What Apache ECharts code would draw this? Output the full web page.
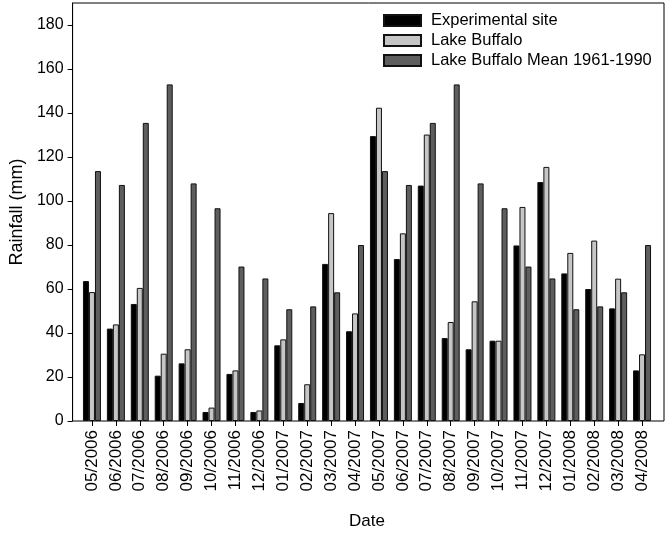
<!DOCTYPE html>
<html>
<head>
<meta charset="utf-8">
<script src="https://cdn.jsdelivr.net/npm/echarts@6/dist/echarts.min.js"></script>
<style>
html,body{margin:0;padding:0;background:#fff;}
#chart{width:668px;height:536px;}
</style>
</head>
<body>
<div id="chart"></div>
<script>
var categories = ['05/2006','06/2006','07/2006','08/2006','09/2006','10/2006','11/2006','12/2006',
  '01/2007','02/2007','03/2007','04/2007','05/2007','06/2007','07/2007','08/2007','09/2007','10/2007','11/2007','12/2007',
  '01/2008','02/2008','03/2008','04/2008'];
var experimentalSite = [63.6,42.0,53.2,20.6,26.2,4.1,21.4,4.1,34.4,8.2,71.4,40.8,129.5,73.6,107.0,37.7,32.6,36.5,79.8,108.6,67.1,60.0,51.2,23.0];
var lakeBuffalo = [58.6,43.9,60.5,30.6,32.6,6.1,23.0,4.8,37.1,16.7,94.5,48.9,142.4,85.3,130.2,45.0,54.4,36.5,97.3,115.5,76.4,82.0,64.7,30.3];
var lakeBuffaloMean = [113.6,107.3,135.5,153.0,108.0,96.7,70.2,64.8,50.8,52.1,58.5,80.0,113.6,107.3,135.5,153.0,108.0,96.7,70.2,64.8,50.8,52.1,58.5,80.0];
var yTicks = [0,20,40,60,80,100,120,140,160,180];

var chart = echarts.init(document.getElementById('chart'));
var font = 'Liberation Sans, Arial, sans-serif';
function barSeries(name, data, color) {
  return {
    name: name, type: 'bar', xAxisIndex: 1, yAxisIndex: 1, data: data,
    barWidth: 6, barGap: '0%',
    itemStyle: {color: color, borderColor: '#111', borderWidth: 1}
  };
}
chart.setOption({
  animation: false,
  backgroundColor: '#fff',
  textStyle: {fontFamily: font},
  grid: [
    {left: 68, right: 4, top: 3, bottom: 115, show: true, borderColor: '#000', borderWidth: 1, backgroundColor: 'transparent'},
    {left: 80, right: 14, top: 3, bottom: 115}
  ],
  legend: {
    orient: 'vertical', left: 383, top: 12, padding: 0,
    icon: 'rect',
    itemWidth: 37, itemHeight: 11, itemGap: 3,
    textStyle: {fontSize: 16.5, color: '#000', fontFamily: font, padding: [0,0,0,5]},
    data: ['Experimental site','Lake Buffalo','Lake Buffalo Mean 1961-1990']
  },
  xAxis: [
    {type: 'value', gridIndex: 0, min: 0, max: 1, show: false},
    {type: 'category', gridIndex: 1, data: categories,
     axisLine: {show: false},
     axisTick: {show: true, alignWithLabel: true, length: 5, lineStyle: {color: '#000'}},
     axisLabel: {rotate: 90, fontSize: 17, color: '#000', margin: 9, interval: 0, fontFamily: font},
     name: 'Date', nameLocation: 'middle', nameGap: 92,
     nameTextStyle: {fontSize: 17, color: '#000', fontFamily: font}}
  ],
  yAxis: [
    {type: 'value', gridIndex: 0, min: 0, max: 190, interval: 20,
     axisLine: {show: true, lineStyle: {color: '#000'}},
     axisTick: {show: true, length: 5, lineStyle: {color: '#000'}, customValues: yTicks},
     axisLabel: {fontSize: 16, color: '#000', margin: 9, fontFamily: font, customValues: yTicks},
     splitLine: {show: false},
     name: 'Rainfall (mm)', nameLocation: 'middle', nameGap: 46,
     nameTextStyle: {fontSize: 18, color: '#000', fontFamily: font}},
    {type: 'value', gridIndex: 1, min: 0, max: 190, show: false}
  ],
  series: [
    barSeries('Experimental site', experimentalSite, '#000000'),
    barSeries('Lake Buffalo', lakeBuffalo, '#c6c6c6'),
    barSeries('Lake Buffalo Mean 1961-1990', lakeBuffaloMean, '#5e5e5e')
  ]
});
</script>
</body>
</html>
